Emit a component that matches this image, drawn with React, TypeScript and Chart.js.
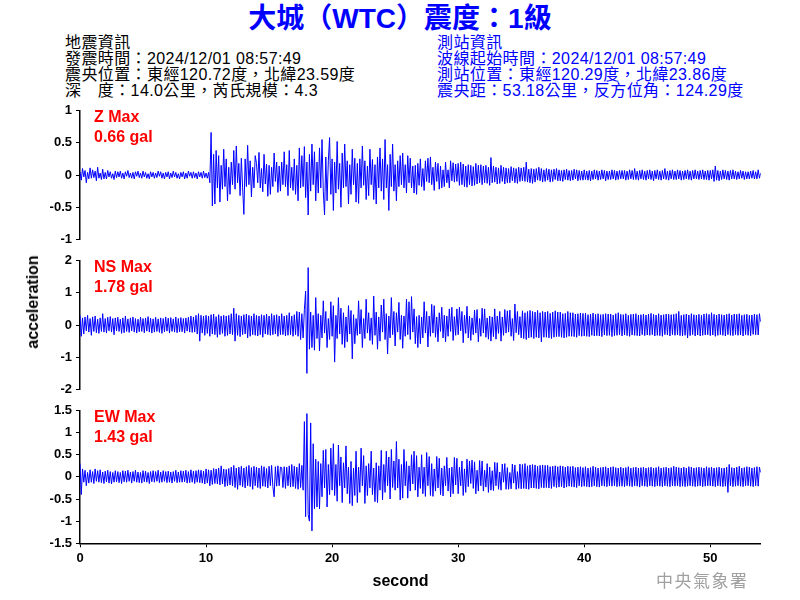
import React, { useEffect, useRef } from "react";
import { Chart, registerables } from "chart.js";

Chart.register(...registerables);

// ---- data: samples every 0.1 s from 0 to 54 s, values in 0.01 gal ----
const SAMPLE_STEP = 0.1;
const X_MIN = 0;
const X_MAX = 54;
const X_STEP = 10;

const TITLE = "大城（WTC）震度：1級";
const QUAKE_INFO = [
  "地震資訊",
  "發震時間：2024/12/01 08:57:49",
  "震央位置：東經120.72度，北緯23.59度",
  "深　度：14.0公里，芮氏規模：4.3",
];
const STATION_INFO = [
  "測站資訊",
  "波線起始時間：2024/12/01 08:57:49",
  "測站位置：東經120.29度，北緯23.86度",
  "震央距：53.18公里，反方位角：124.29度",
];
const CHANNEL_LABELS = ["Z Max", "NS Max", "EW Max"];
const CHANNEL_MAX = ["0.66 gal", "1.78 gal", "1.43 gal"];
const X_TITLE = "second";
const Y_TITLE = "acceleration";
const WATERMARK = "中央氣象署";

const Z_RANGE = [-1, 1, 0.5];
const NS_RANGE = [-2, 2, 1];
const EW_RANGE = [-1.5, 1.5, 0.5];

// Z channel, 0.01 gal
const Z_CGAL = [
  5, -8, 10, -3, 7, -12, 4, -6, 11, -5,
  8, -4, 6, -9, 12, -5, 3, -7, 9, -6,
  4, -6, 7, -3, 5, -5, 2, -7, 6, -4,
  5, -3, 6, -5, 3, -6, 5, -2, 7, -4,
  3, -5, 4, -6, 5, -2, 6, -4, 3, -5,
  6, -3, 4, -5, 2, -6, 5, -3, 4, -5,
  3, -4, 6, -2, 5, -5, 3, -6, 4, -3,
  5, -6, 3, -4, 6, -3, 4, -5, 2, -6,
  4, -3, 5, -6, 3, -5, 6, -2, 4, -5,
  5, -4, 3, -6, 5, -3, 4, -5, 6, -4,
  3, -5, 4, -12, 66, -48, 32, -45, 38, -20,
  30, -42, 15, -22, 40, -18, 25, -40, 12, -30,
  20, -15, 38, -22, 45, -12, 18, -32, 26, -20,
  -61, 25, -18, 46, -15, 22, -34, 12, -20, 30,
  18, -12, 35, -20, 10, -26, 32, -14, 17, -33,
  15, -30, 12, -18, 34, -10, 20, -27, 14, -25,
  20, -15, 36, -18, 16, -32, 38, -20, 12, -24,
  25, -30, 15, -40, 42, -20, 30, -18, 44, -35,
  20, -62, 32, -25, 48, -15, 36, -40, 20, -28,
  42, -20, 55, -25, -62, 28, -40, 22, 58, -30,
  25, -55, 20, -28, 52, -22, 18, -50, 34, -20,
  48, -18, 22, -45, 16, -30, 40, -15, 26, -42,
  18, -44, 25, -20, 45, -16, 22, -38, 14, -32,
  40, -15, 24, -38, 16, -45, 28, -20, 42, -25,
  25, -38, 55, -20, 16, -55, 32, -18, 48, -25,
  16, -40, 22, -18, 30, -15, 34, -20, 16, -28,
  30, -12, 26, -20, 14, -28, 15, -30, 18, -16,
  25, -18, 10, -24, 22, -10, 26, -12, 28, -15,
  12, -24, 20, -10, 18, -22, 14, -20, 8, -18,
  20, -12, 8, -20, 22, -9, 19, -11, 17, -10,
  18, -16, 20, -15, 17, -18, 14, -19, 16, -15,
  15, -17, 13, -16, 18, -14, 15, -12, 16, -15,
  14, -12, 15, -13, 12, -16, 27, -12, 14, -11,
  12, -14, 11, -13, 15, -10, 12, -14, 11, -12,
  10, -12, 13, -9, 11, -12, 10, -13, 12, -10,
  11, -9, 12, -10, 20, -11, 9, -12, 10, -13,
  9, -11, 10, -8, 12, -9, 10, -11, 8, -10,
  10, -8, 9, -11, 8, -10, 9, -7, 10, -9,
  8, -9, 7, -10, 8, -7, 9, -8, 7, -9,
  7, -8, 9, -6, 8, -9, 7, -8, 6, -8,
  8, -7, 6, -8, 7, -9, 6, -7, 8, -6,
  7, -8, 6, -7, 8, -6, 7, -9, 6, -7,
  6, -7, 8, -6, 7, -8, 6, -7, 7, -6,
  7, -6, 7, -8, 6, -7, 8, -6, 7, -7,
  10, -7, 6, -8, 7, -6, 8, -7, 6, -8,
  7, -6, 8, -7, 6, -9, 7, -6, 8, -7,
  6, -8, 7, -6, 10, -7, 6, -8, 7, -6,
  8, -7, 6, -7, 8, -6, 7, -8, 6, -7,
  7, -6, 8, -7, 6, -8, 7, -6, 8, -6,
  6, -7, 7, -6, 8, -7, 6, -7, 7, -8,
  7, -6, 8, -10, 14, -8, 7, -9, 6, -7,
  8, -6, 7, -7, 6, -8, 7, -6, 8, -6,
  6, -7, 5, -6, 7, -5, 6, -7, 5, -6,
  5, -6, 6, -5, 7, -6, 5, -6, 8, -5,
  3,
];

// NS channel, 0.01 gal
const NS_CGAL = [
  30, -35, 22, -28, 25, -18, 30, -22, 20, -32,
  25, -20, 28, -24, 18, -26, 22, -20, 35, -22,
  20, -25, 24, -18, 26, -22, 20, -30, 22, -18,
  24, -20, 18, -26, 22, -24, 28, -20, 19, -23,
  22, -18, 25, -22, 20, -25, 18, -21, 24, -20,
  20, -24, 22, -19, 26, -22, 21, -25, 19, -22,
  24, -20, 19, -23, 22, -26, 20, -21, 25, -19,
  21, -25, 23, -20, 19, -22, 25, -24, 20, -21,
  23, -21, 20, -25, 22, -19, 24, -22, 28, -23,
  25, -22, 30, -28, 35, -50, 30, -25, 28, -32,
  30, -26, 28, -35, 32, -28, 34, -30, 26, -38,
  32, -30, 28, -26, 30, -35, 28, -32, 30, -28,
  35, -30, 52, -50, 35, -32, 30, -36, 28, -30,
  32, -28, 34, -40, 30, -35, 28, -30, 35, -32,
  30, -34, 28, -30, 32, -38, 30, -28, 34, -30,
  28, -32, 35, -30, 30, -28, 32, -35, 28, -30,
  35, -30, 28, -34, 30, -32, 38, -30, 28, -35,
  32, -30, 42, -35, 40, -45, 35, -40, 48, 105,
  -150, 178, -75, 40, -70, 30, -78, 85, -42, 35,
  -80, 30, -40, 75, -25, 42, -70, 20, -45, 72,
  -35, 60, -115, 30, -42, 85, -28, 52, -60, 38,
  -70, 25, -52, 60, -28, 45, -105, 32, -58, 20,
  -32, 75, -28, 48, -70, 20, -42, 80, -25, 38,
  -48, 22, -60, 90, -32, 40, -75, 25, -50, 62,
  -22, 80, -45, 35, -90, 28, -40, 85, -30, 42,
  -65, 38, -22, 70, -45, 30, -72, 28, -35, 80,
  -30, 72, -45, 88, -22, 50, -58, 26, -70, 30,
  -58, 25, -40, 72, -25, 42, -68, 28, -35, 64,
  -25, 60, -38, 25, -52, 38, -20, 55, -40, 30,
  -52, 28, -35, 50, -20, 55, -48, 26, -32, 50,
  -30, 55, -18, 42, -55, 30, -26, 58, -40, 28,
  -48, 22, -30, 46, -25, 48, -52, 20, -35, 52,
  -25, 50, -38, 22, -44, 28, -50, 25, -36, 50,
  -44, 28, -26, 42, -50, 25, -32, 48, -25, 44,
  -22, 46, -35, 20, -48, 65, -24, 42, -30, 26,
  -40, 44, -42, 38, -45, 42, -40, 45, -38, 42,
  -42, 40, -38, 45, -40, 38, -52, 42, -38, 40,
  -38, 42, -40, 36, -42, 40, -38, 44, -36, 40,
  -36, 40, -38, 35, -40, 36, -38, 42, -35, 38,
  -35, 38, -36, 34, -38, 35, -33, 37, -35, 36,
  -34, 36, -35, 32, -36, 34, -32, 37, -34, 33,
  -33, 35, -34, 32, -36, 33, -31, 35, -33, 34,
  -32, 34, -36, 31, -33, 35, -32, 38, -30, 33,
  -34, 32, -31, 35, -33, 30, -35, 33, -31, 34,
  -32, 35, -33, 31, -34, 32, -30, 34, -33, 31,
  -31, 34, -32, 36, -30, 33, -34, 31, -32, 35,
  -33, 31, -35, 32, -30, 34, -31, 33, -34, 32,
  -30, 33, -32, 35, -31, 42, -33, 30, -34, 32,
  -32, 34, -40, 31, -33, 35, -30, 32, -34, 31,
  -31, 33, -34, 30, -32, 34, -31, 35, -30, 33,
  -33, 38, -31, 33, -35, 31, -32, 34, -30, 32,
  -32, 31, -34, 33, -30, 35, -32, 31, -33, 34,
  -30, 33, -32, 35, -31, 30, -34, 32, -30, 33,
  -32, 30, -33, 31, -29, 34, -30, 32, -31, 35,
  10,
];

// EW channel, 0.01 gal
const EW_CGAL = [
  30, -40, 18, -12, 15, -20, 10, -14, 16, -12,
  12, -15, 18, -10, 14, -12, 16, -13, 11, -15,
  13, -11, 15, -14, 12, -16, 10, -12, 14, -11,
  12, -13, 10, -15, 14, -11, 13, -12, 15, -10,
  11, -14, 12, -10, 15, -12, 11, -13, 10, -14,
  14, -11, 13, -12, 10, -15, 12, -11, 14, -12,
  12, -10, 15, -13, 11, -12, 14, -10, 12, -13,
  13, -12, 11, -14, 12, -10, 15, -13, 11, -12,
  14, -12, 13, -11, 15, -14, 12, -13, 16, -12,
  13, -15, 14, -12, 16, -13, 15, -14, 13, -16,
  18, -14, 16, -20, 15, -17, 19, -15, 18, -16,
  20, -18, 25, -16, 18, -22, 17, -20, 19, -18,
  22, -20, 26, -24, 20, -28, 22, -19, 24, -22,
  20, -25, 23, -20, 26, -22, 21, -28, 24, -20,
  22, -24, 20, -26, 25, -21, 23, -22, 19, -25,
  24, -20, 26, -22, -45, 23, -21, 25, -20, 22,
  21, -24, 23, -26, 22, -20, 25, -23, 28, -22,
  24, -26, 22, -28, 30, -24, 26, -30, 125, -90,
  143, -85, -100, 122, -122, 75, -72, 40, -68, 35,
  -72, 30, -45, 60, -25, 62, -68, 28, -40, 65,
  -30, 75, -42, 28, -55, 72, -20, 45, -58, 32,
  -25, 70, -38, 22, -60, 35, -65, 20, -42, 58,
  -58, 22, -35, 65, -20, 48, -60, 25, -42, 30,
  -25, 58, -40, 20, -56, 32, -58, 25, -30, 60,
  -52, 28, -35, 58, -20, 45, -50, 62, -24, 36,
  -30, 80, -25, 40, -52, 28, -48, 62, -20, 35,
  -48, 25, -32, 50, -16, 58, -30, 48, -45, 22,
  -26, 50, -38, 22, -44, 55, -20, 46, -42, 30,
  -44, 18, -32, 46, -25, 42, -40, 20, -43, 25,
  -20, 44, -32, 20, -45, 22, -38, 44, -18, 42,
  -38, 22, -20, 36, -42, 18, -35, 40, -22, 36,
  -15, 38, -26, 34, -38, 15, -32, 37, -20, 36,
  -32, 15, -23, 30, -35, 22, -30, 14, -31, 33,
  -20, 32, -28, 11, -30, 29, -12, 30, -28, 21,
  -28, 10, -27, 29, -14, 27, -28, 12, -26, 29,
  -27, 28, -26, 30, -27, 25, -28, 27, -25, 28,
  -25, 27, -26, 24, -27, 26, -24, 27, -25, 26,
  -24, 26, -25, 23, -26, 24, -22, 25, -24, 23,
  -23, 25, -22, 24, -25, 22, -23, 24, -21, 23,
  -22, 24, -23, 21, -24, 22, -20, 23, -22, 21,
  -21, 23, -22, 20, -23, 21, -22, 24, -20, 22,
  -22, 20, -23, 21, -20, 22, -21, 23, -22, 20,
  -20, 22, -21, 23, -20, 21, -22, 20, -21, 22,
  -21, 20, -22, 21, -20, 23, -21, 20, -22, 21,
  -20, 22, -21, 20, -23, 21, -20, 22, -21, 20,
  -22, 21, -20, 22, -21, 20, -22, 21, -20, 23,
  -21, 20, -22, 21, -20, 22, -21, 20, -22, 21,
  -20, 24, -21, 22, -20, 21, -22, 20, -21, 22,
  -22, 20, -21, 23, -20, 22, -21, 20, -22, 21,
  -21, 22, -20, 21, -22, 20, -21, 23, -20, 21,
  -20, 22, -21, 20, -22, 21, -20, 22, -21, 20,
  -22, 20, -21, 22, -35, 28, -20, 21, -22, 20,
  -21, 22, -20, 24, -21, 20, -22, 21, -20, 23,
  -20, 22, -21, 20, -22, 21, -20, 23, -21, 22,
  10,
];

// ---- styling ----
const LATIN = '"Liberation Sans", Arial, "Noto Sans CJK TC", sans-serif';
const TRACE_COLOR = "#0000ff";

type PanelProps = {
  top: number;
  height: number;
  values: number[];
  range: number[];
  showX: boolean;
  padTop: number;
  padBottom: number;
};

function Panel({ top, height, values, range, showX, padTop, padBottom }: PanelProps) {
  const ref = useRef<HTMLCanvasElement | null>(null);
  useEffect(() => {
    if (!ref.current) return;
    const data = values.map((v, i) => ({ x: Math.round(i * SAMPLE_STEP * 10) / 10, y: v / 100 }));
    const tickFont = { family: LATIN, weight: "bold" as const, size: 13, lineHeight: 1 };
    const xScale: any = {
      type: "linear",
      min: X_MIN,
      max: X_MAX,
      display: showX,
      ticks: {
        stepSize: X_STEP,
        includeBounds: false,
        color: "#000",
        font: tickFont,
        padding: 5,
        maxRotation: 0,
        callback: (v: any) => String(v),
      },
      grid: { drawOnChartArea: false, drawTicks: true, tickLength: 4, color: "#000", lineWidth: 1 },
      border: { display: true, color: "#000", width: 1.5 },
    };
    if (showX) {
      xScale.afterFit = (s: any) => {
        s.height = 56.7;
      };
    }
    const chart = new Chart(ref.current, {
      type: "line",
      data: {
        datasets: [
          {
            data,
            borderColor: TRACE_COLOR,
            borderWidth: 1,
            pointRadius: 0,
            tension: 0,
            fill: false,
          },
        ],
      },
      options: {
        animation: false,
        responsive: false,
        events: [],
        parsing: false as any,
        plugins: { legend: { display: false }, tooltip: { enabled: false } },
        layout: { padding: { left: 0, right: 39.3, top: padTop, bottom: padBottom } },
        scales: {
          x: xScale,
          y: {
            type: "linear",
            min: range[0],
            max: range[1],
            ticks: {
              stepSize: range[2],
              color: "#000",
              font: tickFont,
              padding: 4,
              callback: (v: any) => String(v),
            },
            grid: { drawOnChartArea: false, drawTicks: true, tickLength: 4, color: "#000", lineWidth: 1 },
            border: { display: true, color: "#000", width: 1.5 },
            afterFit: (s: any) => {
              s.width = 80;
            },
          },
        },
      },
    });
    return () => chart.destroy();
  }, []);
  return (
    <canvas
      ref={ref}
      width={800}
      height={height}
      style={{ position: "absolute", left: 0, top, width: 800, height, display: "block" }}
    />
  );
}

function ChannelLabel({ top, name, max }: { top: number; name: string; max: string }) {
  return (
    <div
      style={{
        position: "absolute",
        left: 94,
        top,
        font: `bold 16px ${LATIN}`,
        lineHeight: "20px",
        color: "#ff0000",
        whiteSpace: "nowrap",
      }}
    >
      <div>{name}</div>
      <div>{max}</div>
    </div>
  );
}

export default function App() {
  const infoStyle = {
    position: "absolute" as const,
    top: 35,
    font: `16px ${LATIN}`,
    lineHeight: "16px",
    letterSpacing: "0.4px",
    whiteSpace: "nowrap" as const,
  };
  return (
    <div
      style={{
        position: "absolute",
        left: 0,
        top: 0,
        width: 800,
        height: 600,
        background: "#fff",
        overflow: "hidden",
      }}
    >
      <div
        style={{
          position: "absolute",
          left: 0,
          top: 3,
          width: 800,
          textAlign: "center",
          font: `bold 28px ${LATIN}`,
          lineHeight: "32px",
          color: "#0000ff",
          whiteSpace: "nowrap",
        }}
      >
        {TITLE}
      </div>
      <div style={{ ...infoStyle, left: 65, color: "#000" }}>
        {QUAKE_INFO.map((t, i) => (
          <div key={i}>{t}</div>
        ))}
      </div>
      <div style={{ ...infoStyle, left: 437, color: "#0000ff" }}>
        {STATION_INFO.map((t, i) => (
          <div key={i}>{t}</div>
        ))}
      </div>

      <Panel top={100} height={150} values={Z_CGAL} range={Z_RANGE} showX={false} padTop={7.3} padBottom={6.7} />
      <Panel top={250} height={150} values={NS_CGAL} range={NS_RANGE} showX={false} padTop={7.3} padBottom={6.7} />
      <Panel top={400} height={200} values={EW_CGAL} range={EW_RANGE} showX={true} padTop={7.3} padBottom={0} />

      <ChannelLabel top={107.2} name={CHANNEL_LABELS[0]} max={CHANNEL_MAX[0]} />
      <ChannelLabel top={257.2} name={CHANNEL_LABELS[1]} max={CHANNEL_MAX[1]} />
      <ChannelLabel top={407.2} name={CHANNEL_LABELS[2]} max={CHANNEL_MAX[2]} />

      <div
        style={{
          position: "absolute",
          left: 32.5,
          top: 301.5,
          transform: "translate(-50%, -50%) rotate(-90deg)",
          font: `bold 16px ${LATIN}`,
          lineHeight: "20px",
          color: "#000",
          whiteSpace: "nowrap",
        }}
      >
        {Y_TITLE}
      </div>
      <div
        style={{
          position: "absolute",
          left: 300,
          width: 201,
          top: 570.5,
          textAlign: "center",
          font: `bold 16px ${LATIN}`,
          lineHeight: "20px",
          color: "#000",
          whiteSpace: "nowrap",
        }}
      >
        {X_TITLE}
      </div>
      <div
        style={{
          position: "absolute",
          left: 656,
          top: 570,
          font: `17px "Noto Sans CJK TC", sans-serif`,
          lineHeight: "20px",
          letterSpacing: "1.5px",
          color: "#a0a0a0",
          whiteSpace: "nowrap",
        }}
      >
        {WATERMARK}
      </div>
    </div>
  );
}
